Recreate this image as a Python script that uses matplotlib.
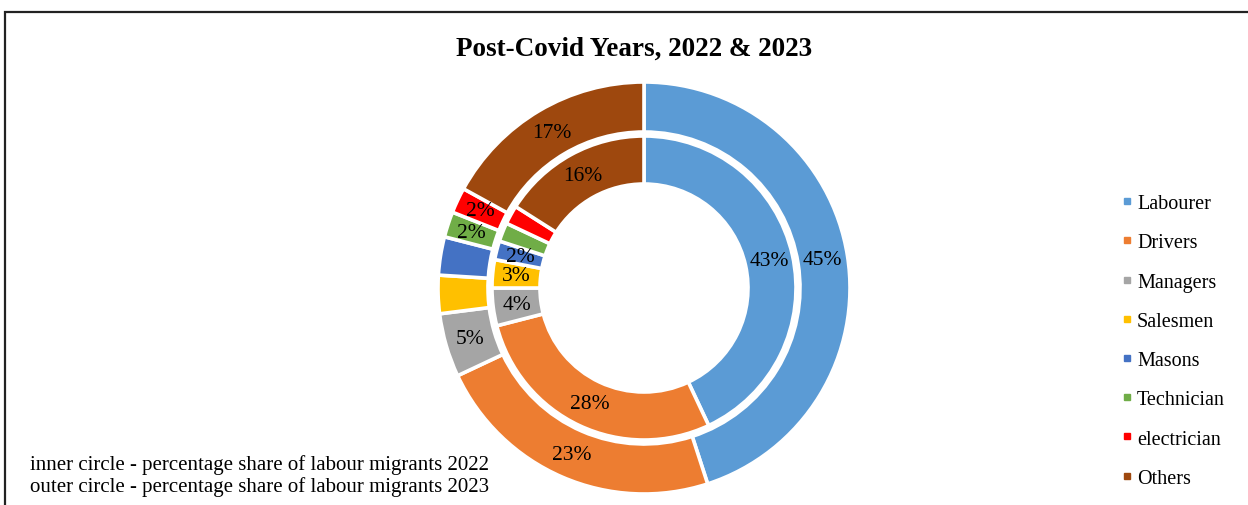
import numpy as np
import matplotlib
matplotlib.use("Agg")
import matplotlib.pyplot as plt
from matplotlib.lines import Line2D
from matplotlib.patches import Rectangle

categories = ["Labourer", "Drivers", "Managers", "Salesmen", "Masons",
              "Technician", "electrician", "Others"]
share_2022 = [43, 28, 4, 3, 2, 2, 2, 16]   # inner ring
share_2023 = [45, 23, 5, 3, 3, 2, 2, 17]   # outer ring
# which slices carry a percentage label
label_2022 = [True, True, True, True, True, False, False, True]
label_2023 = [True, True, True, False, False, True, True, True]
colors = ["#5B9BD5", "#ED7D31", "#A5A5A5", "#FFC000", "#4472C4",
          "#70AD47", "#FF0000", "#9E480E"]

plt.rcParams["font.family"] = ["Liberation Serif", "DejaVu Serif"]

W, H = 1248, 506
fig = plt.figure(figsize=(W / 100, H / 100), dpi=100)

# chart frame (left and top edges visible)
fig.patches.append(Rectangle((5 / W, -0.1), 1.2, 0.1 + 1 - 12.5 / H,
                             transform=fig.transFigure, fill=False,
                             edgecolor="#222222", lw=1.6))

cx, cy, R = 644, 289, 206
ax = fig.add_axes([(cx - R) / W, (H - cy - R) / H, 2 * R / W, 2 * R / H])

outer_w = 50 / R
inner_r = 152 / R
inner_w = 48 / R

wedges_out, _ = ax.pie(
    share_2023, radius=1.0, colors=colors, startangle=90, counterclock=False,
    wedgeprops=dict(width=outer_w, edgecolor="white", linewidth=2.6))
wedges_in, _ = ax.pie(
    share_2022, radius=inner_r, colors=colors, startangle=90, counterclock=False,
    wedgeprops=dict(width=inner_w, edgecolor="white", linewidth=2.6))
for w in wedges_out + wedges_in:
    w.set_clip_on(False)


def put_labels(values, show, r_mid):
    total = sum(values)
    acc = 0
    for v, s in zip(values, show):
        mid = (acc + v / 2) / total * 2 * np.pi
        acc += v
        if not s:
            continue
        x, y = r_mid * np.sin(mid), r_mid * np.cos(mid)
        ax.text(x, y, f"{v}%", ha="center", va="center", fontsize=15.5,
                color="black")


put_labels(share_2023, label_2023, 1.0 - outer_w / 2)
put_labels(share_2022, label_2022, inner_r - inner_w / 2)

ax.set_xlim(-1.0, 1.0)
ax.set_ylim(-1.0, 1.0)
ax.set_aspect("equal")
ax.axis("off")

fig.text(634 / W, 1 - 49 / H, "Post-Covid Years, 2022 & 2023", ha="center",
         va="center", fontsize=19.5, fontweight="bold")

handles = [Line2D([], [], marker="s", linestyle="none", markersize=5,
                  markerfacecolor=c, markeredgecolor=c) for c in colors]
fig.legend(handles, categories, loc="upper left",
           bbox_to_anchor=(1122 / W, 1 - 195 / H), frameon=False,
           fontsize=14.5, labelspacing=1.0, handlelength=0.5,
           handletextpad=0.25, borderaxespad=0, borderpad=0)

fig.text(30 / W, 1 - 465 / H, "inner circle - percentage share of labour migrants 2022",
         ha="left", va="center", fontsize=15)
fig.text(30 / W, 1 - 487 / H, "outer circle - percentage share of labour migrants 2023",
         ha="left", va="center", fontsize=15)

fig.savefig("out.png", dpi=100)
